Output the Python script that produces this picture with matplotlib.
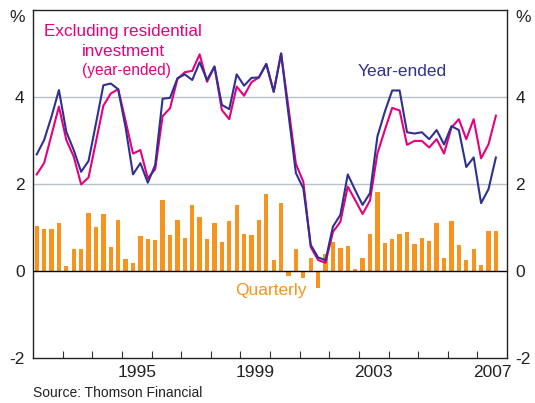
import matplotlib
matplotlib.use("Agg")
import matplotlib.pyplot as plt
import numpy as np

plt.rcParams['font.family'] = ['Liberation Sans', 'DejaVu Sans']
plt.rcParams['axes.unicode_minus'] = False

# Quarterly data, 1992Q1 .. 2007Q3
start_year = 1992
quarterly = [1.03, 0.97, 0.97, 1.10, 0.11, 0.51, 0.51, 1.33, 1.01, 1.31, 0.55, 1.17,
             0.28, 0.18, 0.80, 0.74, 0.71, 1.63, 0.83, 1.17, 0.76, 1.52, 1.24, 0.74,
             1.10, 0.67, 1.15, 1.52, 0.85, 0.83, 1.17, 1.77, 0.25, 1.56, -0.12, 0.50,
             -0.15, 0.29, -0.38, 0.38, 0.66, 0.54, 0.57, 0.04, 0.29, 0.84, 1.81, 0.64,
             0.73, 0.84, 0.89, 0.61, 0.75, 0.68, 1.10, 0.29, 1.16, 0.59, 0.25, 0.50,
             0.13, 0.93, 0.93]
year_ended = [2.68, 3.01, 3.55, 4.16, 3.20, 2.78, 2.28, 2.53, 3.39, 4.27, 4.31, 4.18,
              3.30, 2.22, 2.48, 2.03, 2.44, 3.96, 3.98, 4.43, 4.52, 4.39, 4.80, 4.39,
              4.70, 3.82, 3.72, 4.52, 4.26, 4.44, 4.45, 4.76, 4.12, 5.00, 3.60, 2.25,
              1.90, 0.60, 0.31, 0.25, 1.02, 1.29, 2.22, 1.86, 1.52, 1.79, 3.09, 3.66,
              4.15, 4.15, 3.19, 3.16, 3.19, 3.03, 3.24, 2.91, 3.33, 3.24, 2.39, 2.61,
              1.56, 1.88, 2.61]
excl_resid = [2.22, 2.48, 3.13, 3.78, 3.01, 2.63, 1.99, 2.15, 2.97, 3.80, 4.08, 4.18,
              3.45, 2.70, 2.78, 2.13, 2.34, 3.56, 3.74, 4.41, 4.57, 4.60, 4.98, 4.35,
              4.70, 3.70, 3.49, 4.24, 4.03, 4.34, 4.45, 4.76, 4.12, 5.00, 3.75, 2.46,
              2.05, 0.55, 0.25, 0.19, 0.90, 1.13, 1.94, 1.63, 1.31, 1.62, 2.70, 3.24,
              3.75, 3.69, 2.90, 2.99, 2.99, 2.84, 3.03, 2.70, 3.30, 3.49, 3.03, 3.49,
              2.59, 2.91, 3.57]
year_labels = ['1995', '1999', '2003', '2007']

pink = '#e6007e'
navy = '#2e3192'
orange = '#f7941d'
grid_c = '#b8c0c8'
txt_c = '#222222'

t = start_year + (np.arange(len(quarterly)) + 0.5) / 4.0

W, H = 535, 403
fig = plt.figure(figsize=(W / 100, H / 100), dpi=100)
ax = fig.add_axes([33 / W, 1 - 358 / H, (507 - 33) / W, (358 - 10) / H])

ax.set_xlim(1992, 2008)
ax.set_ylim(-2, 6)

for g in [2, 4]:
    ax.axhline(g, color=grid_c, lw=1.0, zorder=0)
ax.bar(t, quarterly, width=0.145, color=orange, zorder=1)
ax.axhline(0, color='black', lw=1.0, zorder=2)
ax.plot(t, excl_resid, color=pink, lw=1.5, zorder=3)
ax.plot(t, year_ended, color=navy, lw=1.5, zorder=4)

# ticks
ax.set_yticks([-2, 0, 2, 4])
ax.tick_params(axis='y', which='both', length=0, labelsize=12.5, pad=6,
               labelleft=True, labelright=True, right=False, left=False,
               labelcolor=txt_c)
ax.set_xticks([int(y) + 0.5 for y in year_labels])
ax.set_xticklabels(year_labels)
ax.set_xticks(np.arange(1993, 2008), minor=True)
ax.tick_params(axis='x', which='major', length=0, labelsize=12.5, pad=5, labelcolor=txt_c)
ax.tick_params(axis='x', which='minor', direction='in', length=5, width=0.8, color='#333333')
for s in ax.spines.values():
    s.set_color('#222222')
    s.set_linewidth(1.0)

fig.text(17 / W, 1 - 18 / H, '%', ha='center', va='center', fontsize=12.5, color=txt_c)
fig.text(523 / W, 1 - 18 / H, '%', ha='center', va='center', fontsize=12.5, color=txt_c)

ax.text(1995.05, 5.50, 'Excluding residential', color=pink, ha='center', va='center', fontsize=12.3)
ax.text(1995.05, 5.05, 'investment', color=pink, ha='center', va='center', fontsize=12.3)
ax.text(1995.16, 4.62, '(year-ended)', color=pink, ha='center', va='center', fontsize=11.2)
ax.text(2004.47, 4.58, 'Year-ended', color=navy, ha='center', va='center', fontsize=12.5)
ax.text(2000.03, -0.44, 'Quarterly', color=orange, ha='center', va='center', fontsize=12.5)

fig.text(33 / W, 1 - 393 / H, 'Source: Thomson Financial', ha='left', va='center',
         fontsize=10, color=txt_c)

fig.savefig('out.png', dpi=100)
